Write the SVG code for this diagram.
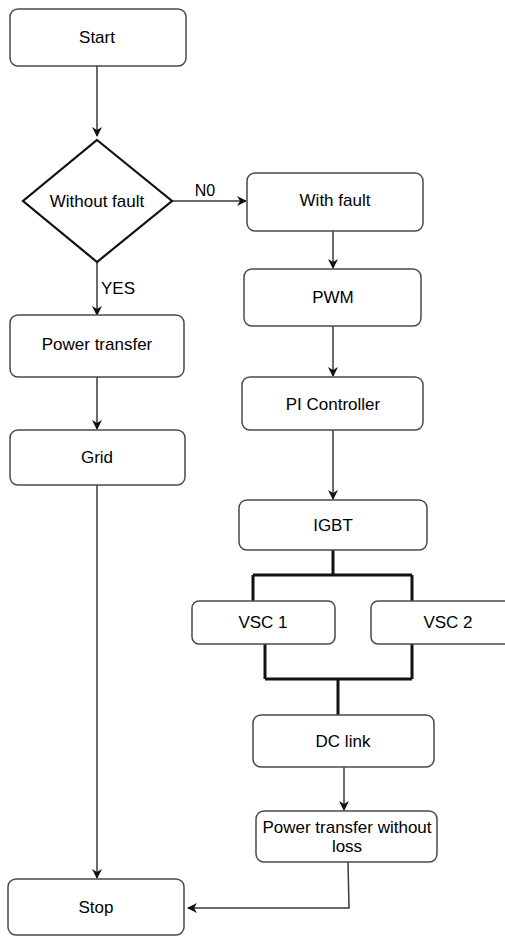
<svg xmlns="http://www.w3.org/2000/svg" width="505" height="936" viewBox="0 0 505 936">
<style>
.box{fill:#fff;stroke:#4a4a4a;stroke-width:1.5}
.t{font-family:"Liberation Sans",Arial,sans-serif;font-size:17px;fill:#000;text-anchor:middle}
.c{fill:none;stroke:#3a3a3a;stroke-width:1.5}
.k{fill:none;stroke:#111;stroke-width:3}
</style>
<defs>
<marker id="ah" viewBox="0 0 10 10" refX="9" refY="5" markerWidth="10" markerHeight="10" markerUnits="userSpaceOnUse" orient="auto">
<path d="M0,0 L10,5 L0,10 L3,5 Z" fill="#111"/>
</marker>
</defs>
<rect width="505" height="936" fill="#fff"/>
<g id="connectors">
<path class="c" d="M97,66 V136" marker-end="url(#ah)"/>
<path class="c" d="M172,201 H246" marker-end="url(#ah)"/>
<path class="c" d="M97,262 V315" marker-end="url(#ah)"/>
<path class="c" d="M97,377 V429" marker-end="url(#ah)"/>
<path class="c" d="M97,485 V878" marker-end="url(#ah)"/>
<path class="c" d="M333,231 V268" marker-end="url(#ah)"/>
<path class="c" d="M333,326 V376" marker-end="url(#ah)"/>
<path class="c" d="M333,430 V499" marker-end="url(#ah)"/>
<path class="k" d="M333,550 V575 M253,575 H412 M253,575 V601 M412,575 V601"/>
<path class="k" d="M265,644 V679 M412,644 V679 M265,679 H412 M338,679 V715"/>
<path class="c" d="M344,767 V810" marker-end="url(#ah)"/>
<path class="c" d="M348,862 L349,908 H188" marker-end="url(#ah)"/>
<text class="t" x="205" y="196" style="font-size:16px">N0</text>
<text class="t" x="118" y="294">YES</text>
</g>
<g id="start"><rect class="box" x="10" y="9" width="176" height="57" rx="8"/><text class="t" x="97" y="43">Start</text></g>
<g id="decision"><polygon points="97,140 172,201 97,262 23,201" fill="#fff" stroke="#111" stroke-width="2.2"/><text class="t" x="97" y="207">Without fault</text></g>
<g id="power-transfer"><rect class="box" x="10" y="315" width="174" height="62" rx="8"/><text class="t" x="97" y="350">Power transfer</text></g>
<g id="grid"><rect class="box" x="10" y="430" width="175" height="55" rx="8"/><text class="t" x="97" y="463">Grid</text></g>
<g id="stop"><rect class="box" x="8" y="879" width="176" height="56" rx="8"/><text class="t" x="96" y="913">Stop</text></g>
<g id="with-fault"><rect class="box" x="247" y="173" width="176" height="58" rx="8"/><text class="t" x="335" y="206">With fault</text></g>
<g id="pwm"><rect class="box" x="244" y="269" width="177" height="57" rx="8"/><text class="t" x="333" y="303">PWM</text></g>
<g id="pi-controller"><rect class="box" x="242" y="377" width="181" height="53" rx="8"/><text class="t" x="333" y="410">PI Controller</text></g>
<g id="igbt"><rect class="box" x="239" y="500" width="188" height="50" rx="8"/><text class="t" x="333" y="531">IGBT</text></g>
<g id="vsc1"><rect class="box" x="192" y="601" width="143" height="43" rx="7"/><text class="t" x="263" y="628">VSC 1</text></g>
<g id="vsc2"><rect class="box" x="371" y="601" width="154" height="43" rx="7"/><text class="t" x="448" y="628">VSC 2</text></g>
<g id="dc-link"><rect class="box" x="253" y="715" width="181" height="52" rx="8"/><text class="t" x="343" y="747">DC link</text></g>
<g id="power-no-loss"><rect class="box" x="256" y="811" width="181" height="51" rx="8"/><text class="t" x="347" y="833">Power transfer without</text><text class="t" x="347" y="852">loss</text></g>
</svg>
